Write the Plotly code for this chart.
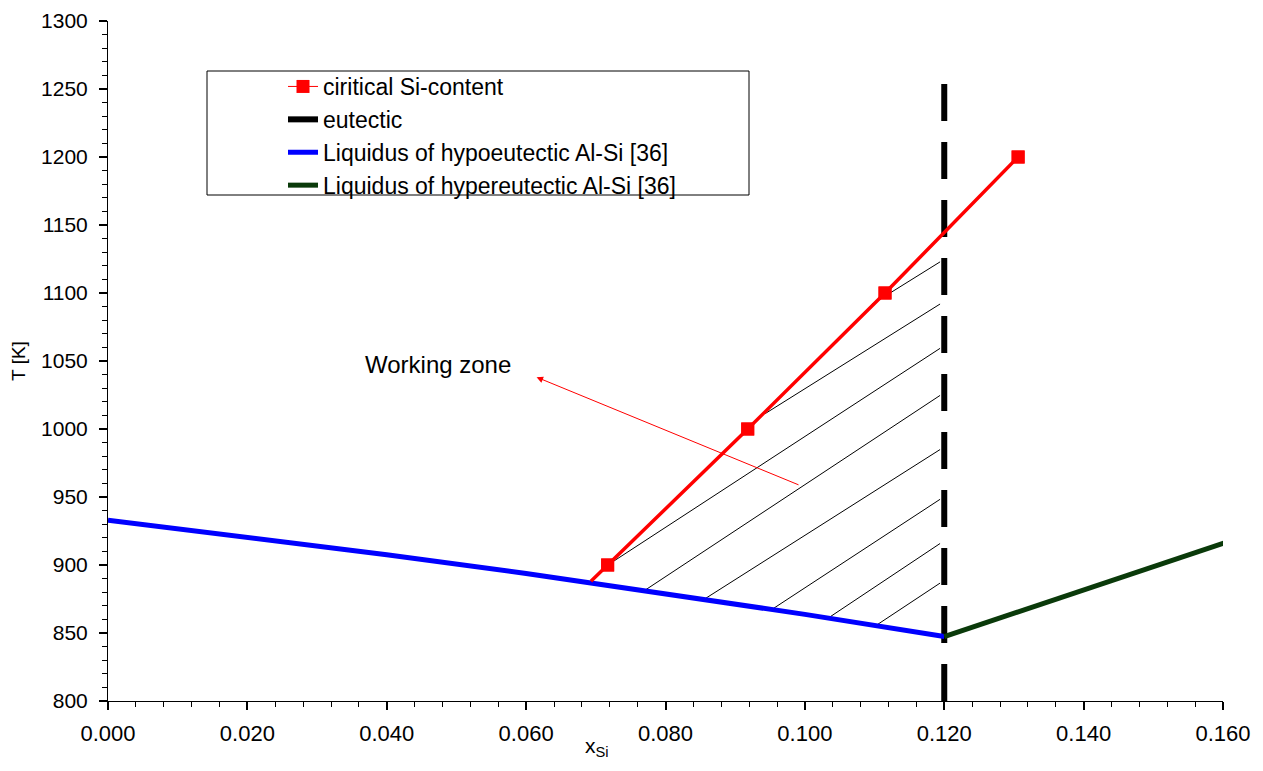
import plotly.graph_objects as go

# ---- data ----
crit_x = [0.0717, 0.0918, 0.1115, 0.1306]
crit_T = [900, 1000, 1100, 1200]
crit_line_x = [0.0693, 0.0717, 0.0918, 0.1115, 0.1306]
crit_line_T = [888, 900, 1000, 1100, 1200]

eut_x = [0.12, 0.12]
eut_T = [800, 1255]

hypo_x = [0.0, 0.02, 0.04, 0.06, 0.08, 0.10, 0.12]
hypo_T = [933, 920.7, 907.6, 893.8, 879.1, 863.7, 847.4]

hyper_x = [0.12, 0.161]
hyper_T = [847.4, 917.7]

# hatch lines of the working zone (start on boundary, end at eutectic)
hatch_x0 = [0.1096, 0.0943, 0.0725, 0.0766, 0.0854, 0.0955, 0.1033, 0.1102]
hatch_T0 = [1091.6, 1011.3, 902.6, 879.9, 874.3, 868.1, 860.8, 855.5]
hatch_x1 = [0.1194] * 8
hatch_T1 = [1122.9, 1091.9, 1059.3, 1024.7, 984.9, 948.3, 915.8, 886.7]

x_ticks = [0.0, 0.02, 0.04, 0.06, 0.08, 0.10, 0.12, 0.14, 0.16]
x_ticklabels = ["0.000", "0.020", "0.040", "0.060", "0.080", "0.100", "0.120", "0.140", "0.160"]
y_ticks = list(range(800, 1301, 50))

FONT = "Liberation Sans, Arial, sans-serif"

# plot-area geometry (page pixels)
PL, PR, PT, PB = 108, 1223, 21, 701
PW, PH = PR - PL, PB - PT


def px(x):
    return (x - PL) / PW


def py(y):
    return (PB - y) / PH


fig = go.Figure()

# hatch
hx, hy = [], []
for a, b, c, d in zip(hatch_x0, hatch_T0, hatch_x1, hatch_T1):
    hx += [a, c, None]
    hy += [b, d, None]
fig.add_trace(go.Scatter(x=hx, y=hy, mode="lines", line=dict(color="black", width=1),
                         showlegend=False, hoverinfo="skip"))

# legend entry for critical (thin line + markers)
fig.add_trace(go.Scatter(x=crit_x, y=crit_T, mode="lines+markers", name="ciritical Si-content",
                         line=dict(color="#ff0000", width=1),
                         marker=dict(symbol="square", size=13, color="#ff0000")))
fig.add_trace(go.Scatter(x=eut_x, y=eut_T, mode="lines", name="eutectic",
                         line=dict(color="black", width=6, dash="37px,21px")))
fig.add_trace(go.Scatter(x=hypo_x, y=hypo_T, mode="lines", name="Liquidus of hypoeutectic Al-Si [36]",
                         line=dict(color="#0000ff", width=5)))
fig.add_trace(go.Scatter(x=hyper_x, y=hyper_T, mode="lines", name="Liquidus of hypereutectic Al-Si [36]",
                         line=dict(color="#0a3a0a", width=5)))
# thick critical line drawn in plot
fig.add_trace(go.Scatter(x=crit_line_x, y=crit_line_T, mode="lines", showlegend=False,
                         line=dict(color="#ff0000", width=3.5)))
fig.add_trace(go.Scatter(x=crit_x, y=crit_T, mode="markers", showlegend=False,
                         marker=dict(symbol="square", size=13, color="#ff0000")))

# annotations
fig.add_annotation(x=0.0615, y=1038.1, ax=0.0993, ay=958.5, axref="x", ayref="y",
                   xref="x", yref="y", text="", showarrow=True, arrowhead=2,
                   arrowsize=1.3, arrowwidth=1, arrowcolor="#ff0000")
fig.add_annotation(x=0.0474, y=1047.4, xref="x", yref="y", text="Working zone",
                   showarrow=False, font=dict(family=FONT, size=24, color="black"))
fig.add_annotation(x=px(597), y=-61.5 / PH, xref="paper", yref="paper",
                   text="x<sub>Si</sub>", showarrow=False, yanchor="bottom",
                   font=dict(family=FONT, size=21, color="black"))

# legend box
fig.add_shape(type="rect", xref="paper", yref="paper",
              x0=px(207), x1=px(749), y0=py(195), y1=py(71),
              line=dict(color="black", width=1), fillcolor="rgba(0,0,0,0)")

fig.update_layout(
    width=1247, height=755,
    margin=dict(l=100, r=32, t=13, b=62, autoexpand=False),
    plot_bgcolor="white", paper_bgcolor="white",
    font=dict(family=FONT, size=22, color="black"),
    showlegend=True,
    legend=dict(x=px(283), y=py(65), xanchor="left", yanchor="top",
                bgcolor="rgba(0,0,0,0)", borderwidth=0,
                font=dict(family=FONT, size=23), tracegroupgap=0, itemwidth=30),
    xaxis=dict(range=[0, 0.16], tickvals=x_ticks, ticktext=x_ticklabels, automargin=False,
               showgrid=False, zeroline=False, showline=True, linecolor="black", linewidth=1,
               ticks="outside", ticklen=8, tickwidth=1.5, tickcolor="black", ticklabelstandoff=5,
               ticklabeloverflow="allow",
               minor=dict(dtick=0.004, ticks="outside", ticklen=5, tickwidth=1, tickcolor="black"),
               tickfont=dict(family=FONT, size=22)),
    yaxis=dict(range=[800, 1300], tickvals=y_ticks, automargin=False,
               showgrid=False, zeroline=False, showline=True, linecolor="black", linewidth=1,
               ticks="outside", ticklen=8, tickwidth=1.5, tickcolor="black", ticklabelstandoff=7,
               ticklabeloverflow="allow",
               minor=dict(dtick=10, ticks="outside", ticklen=5, tickwidth=1, tickcolor="black"),
               tickfont=dict(family=FONT, size=21),
               title=dict(text="T [K]", font=dict(family=FONT, size=19), standoff=25)),
)

fig.write_html("out.html")
